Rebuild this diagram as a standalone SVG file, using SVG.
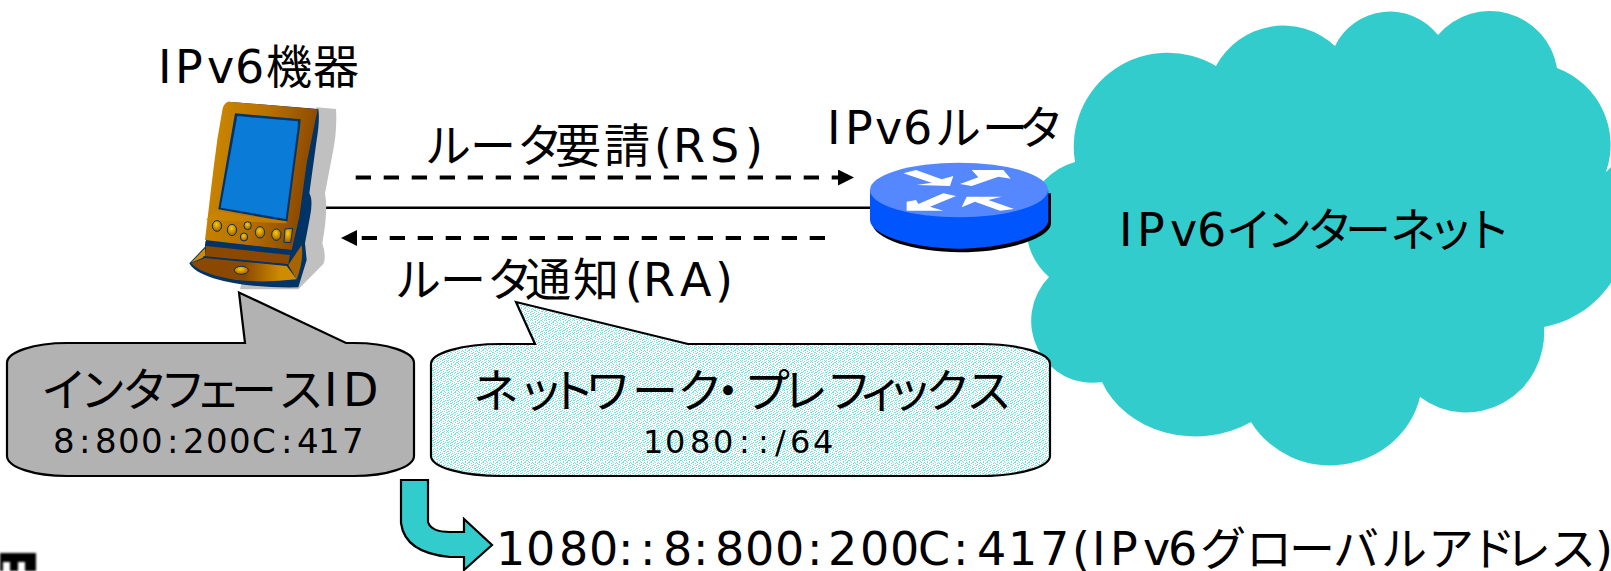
<svg xmlns="http://www.w3.org/2000/svg" width="1611" height="571" viewBox="0 0 1611 571">
<style>
text{font-family:"DejaVu Sans","Noto Sans CJK JP",sans-serif;fill:#000}
.f46{font-size:46px}.f34{font-size:34px}.f32{font-size:32px}
.dash{fill:none;stroke:#000;stroke-width:4;stroke-dasharray:15.3 12.7}
.co{stroke:#000;stroke-width:2.2}
</style>
<defs>
<marker id="head" markerUnits="userSpaceOnUse" markerWidth="16" markerHeight="16" viewBox="0 0 16 16" refX="0" refY="8" orient="auto"><path d="M0,0L16,8L0,16Z" fill="#000"/></marker>
<pattern id="speck" width="14" height="14" patternUnits="userSpaceOnUse">
<rect width="14" height="14" fill="#fff"/>
<path fill="#78dede" d="M0 0h1v1h-1zM3 0h1v1h-1zM6 0h2v1h-2zM11 0h1v1h-1zM1 1h1v1h-1zM5 1h1v1h-1zM9 1h1v1h-1zM13 1h1v1h-1zM2 2h2v1h-2zM7 2h1v1h-1zM11 2h1v1h-1zM0 3h1v1h-1zM4 3h1v1h-1zM9 3h2v1h-2zM13 3h1v1h-1zM2 4h1v1h-1zM6 4h1v1h-1zM12 4h1v1h-1zM0 5h2v1h-2zM4 5h1v1h-1zM8 5h1v1h-1zM10 5h1v1h-1zM3 6h1v1h-1zM6 6h2v1h-2zM12 6h2v1h-2zM1 7h1v1h-1zM5 7h1v1h-1zM9 7h1v1h-1zM0 8h1v1h-1zM3 8h2v1h-2zM7 8h1v1h-1zM11 8h1v1h-1zM13 8h1v1h-1zM2 9h1v1h-1zM6 9h1v1h-1zM9 9h2v1h-2zM0 10h1v1h-1zM4 10h1v1h-1zM8 10h1v1h-1zM12 10h1v1h-1zM2 11h2v1h-2zM6 11h1v1h-1zM10 11h1v1h-1zM13 11h1v1h-1zM0 12h1v1h-1zM5 12h1v1h-1zM8 12h2v1h-2zM12 12h1v1h-1zM3 13h1v1h-1zM7 13h1v1h-1zM10 13h1v1h-1z"/>
</pattern>
<linearGradient id="gold" x1="0" y1="0" x2="1" y2="0.25"><stop offset="0" stop-color="#d08c00"/><stop offset=".55" stop-color="#b87000"/><stop offset="1" stop-color="#8a4800"/></linearGradient>
<linearGradient id="gold2" x1="0" y1="0" x2="1" y2="0"><stop offset="0" stop-color="#8a4800"/><stop offset=".5" stop-color="#8a4800"/><stop offset=".85" stop-color="#cf8c00"/><stop offset="1" stop-color="#cf8c00"/></linearGradient>
<radialGradient id="btn" cx=".45" cy=".35" r=".6"><stop offset="0" stop-color="#ffcc00"/><stop offset="1" stop-color="#a86400"/></radialGradient>
<filter id="soft" x="-20%" y="-20%" width="140%" height="140%"><feGaussianBlur stdDeviation="0.8"/></filter>
</defs>

<g id="cloud">
<path fill="#33CCCC" d="M1075,162 A94,94 0 0 1 1216,66 A76,76 0 0 1 1335,46 A61,61 0 0 1 1438,35 A68,68 0 0 1 1557,68 A82,82 0 0 1 1606,172 L1611,167 A104,104 0 0 1 1544,327 A78,80 0 0 1 1420,397 A92,88 0 0 1 1251,422 A100,85 0 0 1 1102,382 A61,62 0 0 1 1049,277 A67,67 0 0 1 1075,162 Z"/>
<text class="f46" y="246" x="1119 1137 1170 1197 1226 1266 1307 1345 1390 1428 1465">IPv6インターネット</text>
</g>

<g id="connectors">
<path d="M326,207.7H870" fill="none" stroke="#000" stroke-width="2.6"/>
<path class="dash" d="M355.7,177.5H838" marker-end="url(#head)"/>
<path class="dash" d="M825,238H357" marker-end="url(#head)"/>
<path id="derive-arrow" class="co" fill="#33CCCC" d="M401,480H428V522Q431,532 450,532H464V519L492,545L464,570V557H450Q405,553 401,523Z"/>
</g>

<g id="device" transform="translate(150,30) scale(.33333)">
<path fill="#C0C0C0" d="M500,232L558,237Q562,300 548,370L525,490Q535,540 517,640Q530,680 520,702L445,778L270,778L300,650Z"/>
<path fill="#003366" d="M235,215L505,237Q510,270 500,330L478,490Q490,510 480,560L465,640L470,690L445,772Q290,775 190,745Q130,725 118,700L165,650Z"/>
<path fill="url(#gold)" d="M235,215Q224,217 218,235Q200,330 190,420L165,630L425,660L448,560L470,400L503,238Z"/>
<path fill="#003366" d="M255,250L452,268L450,290L412,575L205,538Z"/>
<path fill="#0A7CD8" d="M262,258L444,274L443,292L407,567L212,533Z"/>
<path fill="#C98400" d="M195,543L411,574L408,580L168,570Z" opacity=".8"/>
<path fill="#003366" d="M167,632L440,662L425,675L165,648Z"/>
<path fill="#8a4800" d="M168,648L420,675L415,703L165,680Z"/>
<path fill="#CF8C00" d="M123,698L165,655L165,680Z"/>
<path fill="#003366" d="M160,678L415,703L420,708L160,684Z"/>
<path fill="url(#gold2)" d="M124,700L165,684L410,708L440,748Q290,765 190,735Q140,720 124,700Z"/>
<path fill="#a86400" d="M415,705L455,645Q462,690 440,748Z"/>
<g fill="url(#btn)" stroke="#003366" stroke-width="3">
<ellipse cx="201" cy="588" rx="14" ry="16"/><ellipse cx="246" cy="600" rx="14" ry="17"/><ellipse cx="293" cy="587" rx="11" ry="12"/><ellipse cx="282" cy="621" rx="11" ry="12"/><ellipse cx="330" cy="607" rx="14" ry="17"/><ellipse cx="379" cy="614" rx="14" ry="17"/>
<path d="M405,597L428,595L422,638L402,637Z"/>
<ellipse cx="274" cy="721" rx="21" ry="12"/>
</g>
</g>

<g id="label-device"><text class="f46" y="83" x="158 175 207 235 266 313">IPv6機器</text></g>

<g id="router" transform="translate(790,90) scale(.33333)">
<path fill="#000" d="M247,310V400C247,445 370,487 510,487C650,487 783,445 783,400V310Z"/>
<path fill="#0055FF" d="M240,300V390C240,435 370,476 507,476C645,476 775,435 775,390V300Z"/>
<ellipse cx="507" cy="300" rx="267" ry="82" fill="#5588FF"/>
<g fill="#fff">
<path d="M340,250L378,240L455,268L490,258L480,288L380,285L425,278Z"/>
<path d="M510,282L565,262L545,240L640,240L662,266L625,260L545,288Z"/>
<path d="M350,335L350,362L460,362L420,350L498,318L460,310L385,342L378,330Z"/>
<path d="M515,352L530,320L635,320L595,330L672,357L630,362L555,335Z"/>
</g>
</g>

<g id="label-router"><text class="f46" y="144" x="827 845 875 903 935 982 1018">IPv6ルータ</text></g>
<g id="label-rs"><text class="f46" y="162" x="425 470 517 555 604 654 673 710 745">ルータ要請(RS)</text></g>
<g id="label-ra"><text class="f46" y="296" x="395 440 487 525 573 625 643 680 715">ルータ通知(RA)</text></g>

<g id="callout-interface">
<path class="co" fill="#B2B2B2" d="M67,343H245L239,292.5L346,343H354A60,20 0 0 1 414,363V456A60,20 0 0 1 354,476H67A60,20 0 0 1 7,456V363A60,20 0 0 1 67,343Z"/>
<text class="f46" y="406" x="41 80 122 160 195 231 278 324 343">インタフェースID</text>
<text class="f34" y="453" x="53 79 95 118 141 167 183 206 229 252 281 297 318 342">8:800:200C:417</text>
</g>

<g id="callout-prefix">
<path class="co" fill="url(#speck)" d="M501,344H535L516,302L688,344H980A70,20 0 0 1 1050,364V456A70,20 0 0 1 980,476H501A70,20 0 0 1 431,456V364A70,20 0 0 1 501,344Z"/>
<text class="f46" y="407" x="473 518 549 585 632 677 705 744 782 826 858 887 925 966">ネットワーク・プレフィックス</text>
<text class="f32" y="453" x="643 665 690 713 739 758 775 790 813">1080::/64</text>
</g>

<g id="label-address"><text class="f46" y="565" x="496 526 559 589 618 640 663 693 715 745 775 807 828 860 890 918 953 977 1008 1040 1072 1092 1110 1143 1168 1200 1246 1289 1333 1381 1428 1470 1505 1550 1595">1080::8:800:200C:417(IPv6グローバルアドレス)</text></g>

<g id="corner-mark" filter="url(#soft)">
<path fill="#000" d="M0,553H36V571H25V562H18V571H10V562H3V571H0Z"/>
</g>
</svg>
